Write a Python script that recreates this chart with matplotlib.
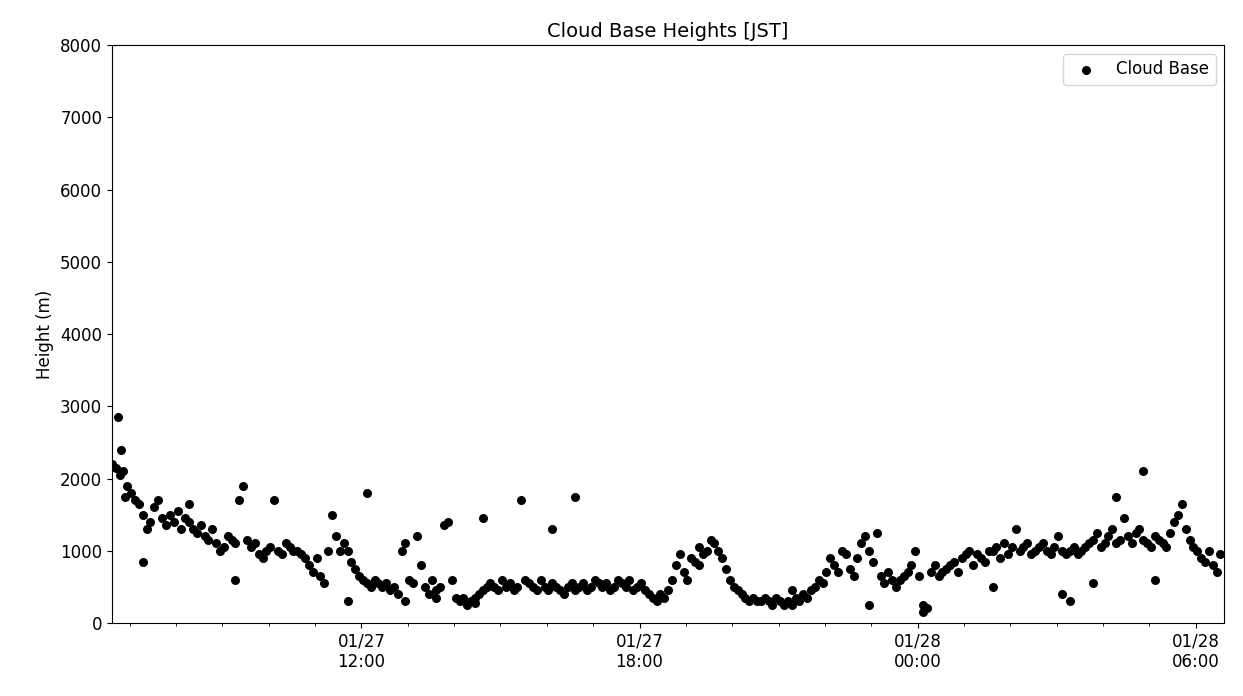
import numpy as np
import pandas as pd
import matplotlib
matplotlib.use("Agg")
import matplotlib.pyplot as plt
import matplotlib.dates as mdates

START = "2024-01-27 06:37"
STEP_MIN = 5

# cloud base heights (m), one value per 5 minutes, one row per hour
heights = [
    2200, 2150, 2050, 2100, 1900, 1800, 1700, 1650, 1500, 1300, 1400, 1600,
    1700, 1450, 1350, 1500, 1400, 1550, 1300, 1450, 1400, 1300, 1250, 1350,
    1200, 1150, 1300, 1100, 1000, 1050, 1200, 1150, 1100, 1700, 1900, 1150,
    1050, 1100, 950, 900, 1000, 1050, 1700, 1000, 950, 1100, 1050, 1000,
    1000, 950, 900, 800, 700, 900, 650, 550, 1000, 1500, 1200, 1000,
    1100, 1000, 850, 750, 650, 600, 550, 500, 600, 550, 500, 550,
    450, 500, 400, 1000, 1100, 600, 550, 1200, 800, 500, 400, 600,
    450, 500, 1350, 1400, 600, 350, 300, 350, 250, 300, 350, 400,
    450, 500, 550, 500, 450, 600, 500, 550, 450, 500, 1700, 600,
    550, 500, 450, 600, 500, 450, 550, 500, 450, 400, 500, 550,
    450, 500, 550, 450, 500, 600, 550, 500, 550, 450, 500, 600,
    550, 500, 600, 450, 500, 550, 450, 400, 350, 300, 400, 350,
    450, 600, 800, 950, 700, 600, 900, 850, 800, 950, 1000, 1150,
    1100, 1000, 900, 750, 600, 500, 450, 400, 350, 300, 350, 300,
    300, 350, 300, 250, 350, 300, 250, 300, 250, 350, 300, 400,
    350, 450, 500, 600, 550, 700, 900, 800, 700, 1000, 950, 750,
    650, 900, 1100, 1200, 1000, 850, 1250, 650, 550, 700, 600, 500,
    600, 650, 700, 800, 1000, 650, 250, 200, 700, 800, 650, 700,
    750, 800, 850, 700, 900, 950, 1000, 800, 950, 900, 850, 1000,
    1000, 1050, 900, 1100, 950, 1050, 1300, 1000, 1050, 1100, 950, 1000,
    1050, 1100, 1000, 950, 1050, 1200, 1000, 950, 1000, 1050, 950, 1000,
    1050, 1100, 1150, 1250, 1050, 1100, 1200, 1300, 1100, 1150, 1450, 1200,
    1100, 1250, 1300, 1150, 1100, 1050, 1200, 1150, 1100, 1050, 1250, 1400,
    1500, 1650, 1300, 1150, 1050, 1000, 900, 850, 1000, 800, 700, 950,
]
# scattered extra returns (time offset in minutes, height m)
extra_min = [8, 12, 17, 40, 100, 160, 305, 330, 380, 420, 470, 480, 570, 600,
             760, 880, 980, 1050, 1140, 1230, 1240, 1270, 1300, 1335, 1350]
extra_h = [2850, 2400, 1750, 850, 1650, 600, 300, 1800, 300, 350, 280, 1450,
           1300, 1750, 1050, 450, 250, 150, 500, 400, 300, 550, 1750, 2100, 600]

t0 = pd.Timestamp(START)
times = t0 + pd.to_timedelta(np.arange(len(heights)) * STEP_MIN, unit="min")
etimes = t0 + pd.to_timedelta(extra_min, unit="min")

fig, ax = plt.subplots(figsize=(12.43, 6.96), dpi=100)
ax.scatter(times, heights, s=30, color="black", label="Cloud Base")
ax.scatter(etimes, extra_h, s=30, color="black")
ax.set_ylim(0, 8000)
ax.set_xlim(t0, t0 + pd.Timedelta(hours=24))
ax.set_ylabel("Height (m)", fontsize=12)
ax.set_title("Cloud Base Heights [JST]", fontsize=14)
ax.xaxis.set_major_locator(mdates.HourLocator(byhour=[0, 6, 12, 18]))
ax.xaxis.set_major_formatter(mdates.DateFormatter("%m/%d\n%H:%M"))
ax.xaxis.set_minor_locator(mdates.HourLocator())
ax.tick_params(labelsize=12)
ax.legend(loc="upper right", fontsize=12)
fig.subplots_adjust(left=0.09, right=0.985, top=0.935, bottom=0.105)
fig.savefig("out.png")
